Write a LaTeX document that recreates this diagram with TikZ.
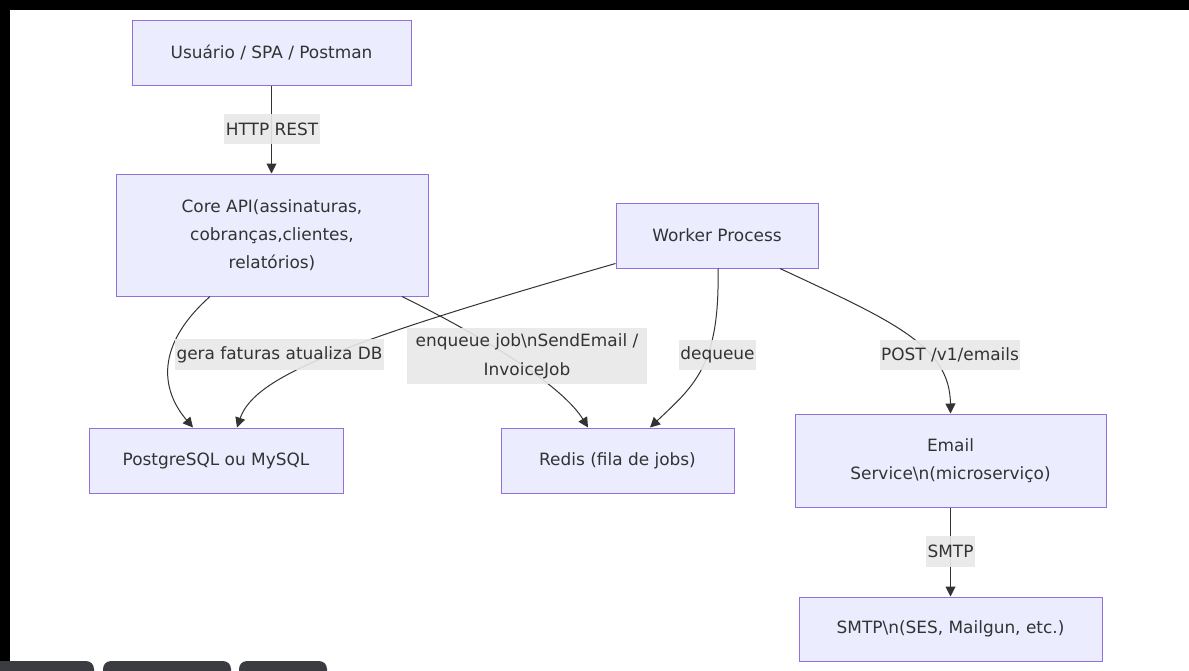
\documentclass[tikz,border=0pt]{standalone}
\usepackage{fontspec}
\setmainfont{DejaVu Sans}
\usetikzlibrary{arrows.meta,calc}
\definecolor{boxfill}{HTML}{ECECFF}
\definecolor{boxline}{HTML}{9370DB}
\definecolor{txt}{HTML}{333333}
\definecolor{lblfill}{HTML}{E8E8E8}
\definecolor{tabgray}{HTML}{3B3C41}
\tikzset{
  bloc/.style 2 args={draw=boxline, fill=boxfill, line width=0.75pt, text=txt,
    align=center, minimum width=#1*0.75pt, minimum height=#2*0.75pt, inner sep=0pt,
    font=\fontsize{12.7}{21}\selectfont},
  etiq/.style={fill=lblfill, fill opacity=0.9, text opacity=1, text=txt, align=center,
    inner xsep=1.2pt, inner ysep=0pt, minimum height=23pt,
    font=\fontsize{12.7}{21.75}\selectfont},
  fleche/.style={draw=txt, line width=0.75pt, -{Triangle[length=7.5pt,width=7.5pt]}},
}
\begin{document}
\begin{tikzpicture}[x=0.75pt,y=-0.75pt]
% fond et cadre
\useasboundingbox (0,0) rectangle (1189,671);
\fill[white] (0,0) rectangle (1189,671);
\fill[black] (0,0) rectangle (1189,10);
\fill[black] (0,0) rectangle (10,662);
\begin{scope}
\clip (0,0) rectangle (1189,671);
\fill[tabgray, rounded corners=6pt] (-10,661) rectangle (94,690);
\fill[tabgray, rounded corners=6pt] (103,661) rectangle (231,690);
\fill[tabgray, rounded corners=6pt] (239,661) rectangle (327,690);
\end{scope}
% blocs
\node[bloc={279}{65}] (user) at (271.5,52.5) {Usuário / SPA / Postman};
\node[bloc={312}{122}] (core) at (272,235) {Core API(assinaturas,\\cobranças,clientes,\\relatórios)};
\node[bloc={202}{65}] (worker) at (717,235.5) {Worker Process};
\node[bloc={254}{65}] (db) at (216,460.5) {PostgreSQL ou MySQL};
\node[bloc={233}{65}] (redis) at (617.5,460.5) {Redis (fila de jobs)};
\node[bloc={311}{93}] (email) at (950.5,460.5) {Email\\Service\textbackslash n(microserviço)};
\node[bloc={303}{64}] (smtp) at (950.5,629) {SMTP\textbackslash n(SES, Mailgun, etc.)};
% liaisons
\draw[fleche] (user.south) -- (user.south |- core.north);
\draw[fleche] ($(core.south)+(-62,0)$) .. controls (150,350) and (165,395) .. ($(db.north)+(-23,0)$);
\draw[fleche] ($(worker.south west)+(0,-5)$) .. controls (350,340) and (255,375) .. ($(db.north)+(21,0)$);
\draw[fleche] ($(core.south)+(130,0)$) .. controls (500,345) and (565,390) .. ($(redis.north)+(-29.5,0)$);
\draw[fleche] ($(worker.south)+(1,0)$) .. controls (720,365) and (695,385) .. ($(redis.north)+(32.5,0)$);
\draw[fleche] ($(worker.south)+(63,0)$) .. controls (890,320) and (950,345) .. (email.north);
\draw[fleche] (email.south) -- (smtp.north);
% etiquettes
\node[etiq] (l1) at (272,129) {HTTP REST};
\node[etiq] (l2) at (279.5,354.5) {gera faturas atualiza DB};
\node[etiq, minimum width=180pt, minimum height=42pt] (l3) at (527,356) {enqueue job\textbackslash nSendEmail /\\InvoiceJob};
\node[etiq] (l4) at (717.5,355) {dequeue};
\node[etiq] (l5) at (950,355) {POST /v1/emails};
\node[etiq] (l6) at (950.5,551.5) {SMTP};
\end{tikzpicture}
\end{document}
